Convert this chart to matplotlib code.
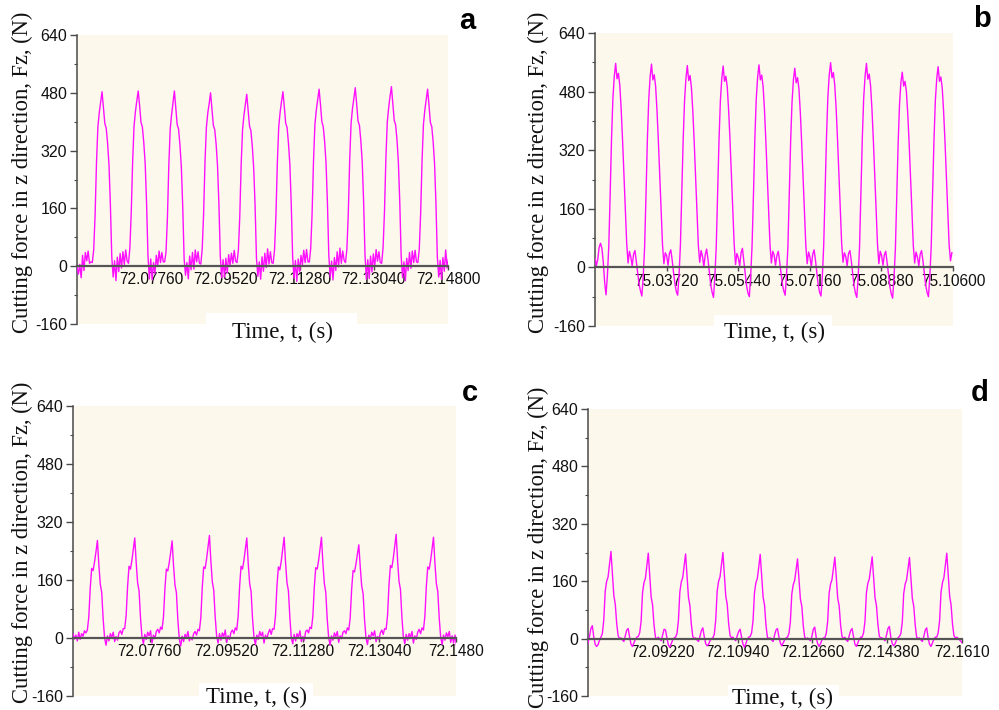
import numpy as np
import matplotlib
matplotlib.use("Agg")
import matplotlib.pyplot as plt
from matplotlib.patches import Rectangle
from matplotlib.ticker import MultipleLocator

# ---------------- data ----------------
# Panel a : Fz (N) sampled every dt_a seconds from t0_a
t0_a, dt_a = 72.06, 0.00033
lead_a = [-2, -22, 5, -32, 30, -12, 38, 15, 42, 8, 12]
cycles_a = [
    [10, 45, 140, 285, 385, 425, 455, 483, 440, 395, 382, 340, 280, 170, 25, -30, 15, -40, 25, -15, 35, -5, 40, 5, 45, 15],
    [8, 50, 150, 290, 388, 428, 458, 485, 445, 398, 385, 342, 285, 175, 30, -35, 20, -38, 10, -20, 30, 0, 42, 10, 38, 12],
    [12, 40, 135, 280, 380, 420, 452, 485, 438, 392, 380, 335, 275, 165, 20, -25, 10, -35, 28, -10, 38, -8, 45, 12, 40, 8],
    [6, 48, 145, 288, 384, 424, 450, 480, 436, 390, 378, 338, 278, 172, 28, -32, 18, -30, 22, -18, 32, 2, 36, 8, 44, 14],
    [10, 44, 138, 282, 378, 418, 448, 476, 432, 388, 375, 332, 272, 168, 22, -28, 12, -36, 26, -14, 36, -4, 48, 6, 40, 10],
    [8, 46, 142, 286, 386, 426, 456, 483, 442, 396, 384, 340, 282, 172, 26, -34, 16, -42, 20, -16, 30, 4, 44, 10, 46, 12],
    [12, 50, 148, 292, 392, 432, 462, 490, 448, 400, 386, 345, 286, 176, 30, -30, 14, -38, 24, -12, 40, -2, 50, 8, 42, 16],
    [10, 48, 146, 294, 395, 436, 466, 494, 450, 402, 390, 348, 290, 180, 32, -36, 18, -34, 28, -16, 34, 0, 46, 14, 40, 10],
    [8, 52, 150, 296, 398, 438, 470, 497, 452, 404, 392, 350, 288, 178, 28, -32, 12, -40, 22, -12, 38, -6, 42, 10, 44, 12],
    [10, 46, 145, 290, 392, 432, 462, 490, 446, 398, 386, 344, 284, 174, 26, -30, 16, -36, 24, -14, 45, -5, 20],
]
xlim_a = (72.06, 72.148)
xticks_a = [72.0776, 72.0952, 72.1128, 72.1304, 72.148]
xlabels_a = ["72.07760", "72.09520", "72.11280", "72.13040", "72.14800"]

# Panel b
t0_b, dt_b = 75.02, 0.000331
lead_b = [25, 5, 22, 55, 66, 52, 15, -40]
cycles_b = [
    [-75, -22, 58, 198, 352, 462, 522, 557, 515, 530, 498, 432, 348, 256, 162, 66, 12, 44, 28, 4, 36, 46, 16, -16, -46, -64],
    [-78, -25, 55, 195, 348, 458, 520, 555, 512, 526, 494, 428, 344, 252, 158, 62, 10, 40, 32, 6, 38, 48, 20, -14, -44, -66],
    [-76, -20, 62, 202, 350, 456, 516, 551, 510, 524, 490, 426, 342, 250, 156, 60, 14, 46, 30, 2, 34, 50, 22, -12, -48, -68],
    [-82, -24, 58, 200, 348, 455, 515, 550, 508, 522, 492, 428, 346, 254, 160, 64, 8, 38, 26, 4, 40, 52, 18, -18, -50, -70],
    [-80, -22, 60, 198, 350, 458, 518, 553, 512, 525, 494, 430, 345, 252, 158, 62, 12, 44, 34, 6, 32, 44, 16, -16, -46, -64],
    [-76, -20, 56, 196, 345, 452, 512, 544, 504, 518, 488, 424, 340, 248, 155, 60, 10, 42, 28, 2, 36, 48, 20, -14, -48, -68],
    [-78, -24, 62, 204, 355, 465, 525, 559, 518, 532, 498, 434, 350, 258, 162, 66, 14, 40, 30, 4, 38, 46, 18, -16, -50, -70],
    [-82, -26, 58, 200, 352, 462, 522, 557, 514, 528, 496, 432, 348, 256, 160, 64, 10, 44, 32, 6, 34, 44, 14, -18, -52, -72],
    [-84, -28, 50, 190, 338, 445, 505, 533, 495, 508, 480, 418, 338, 248, 155, 60, 12, 42, 28, 4, 36, 46, 18, -16, -48, -68],
    [-80, -24, 56, 196, 346, 455, 515, 548, 508, 520, 490, 426, 344, 252, 158, 62, 18, 40],
]
xlim_b = (75.02, 75.106)
xticks_b = [75.0372, 75.0544, 75.0716, 75.0888, 75.106]
xlabels_b = ["75.03720", "75.05440", "75.07160", "75.08880", "75.10600"]

# Panel c
t0_c, dt_c = 72.06, 0.00033
lead_c = [12, -3, 8, -8, 16, -4, 12, 5, 20, 14]
cycles_c = [
    [22, 58, 138, 192, 186, 210, 238, 269, 202, 148, 126, 52, 0, -20, 6, -8, 12, 2, 16, -10, 4, -6, 14, 20, 10, 26],
    [26, 62, 142, 198, 190, 214, 244, 276, 208, 152, 130, 56, 4, -16, 10, -4, 16, 6, 20, -14, 8, -2, 18, 24, 14, 30],
    [24, 58, 136, 190, 185, 208, 236, 268, 200, 146, 125, 50, -2, -22, 5, -10, 10, 0, 18, -8, 2, -5, 12, 18, 8, 24],
    [20, 56, 140, 196, 192, 218, 250, 283, 212, 155, 132, 58, 6, -14, 12, -6, 14, 4, 22, -12, 6, -4, 16, 22, 12, 28],
    [22, 60, 142, 198, 190, 214, 246, 276, 206, 150, 128, 54, 2, -18, 8, -4, 18, 6, 16, -14, 8, -2, 14, 24, 10, 26],
    [24, 62, 144, 196, 188, 212, 244, 278, 208, 152, 130, 56, 0, -16, 10, -8, 12, 2, 20, -10, 4, -6, 18, 22, 14, 30],
    [26, 60, 140, 194, 190, 214, 246, 278, 206, 150, 126, 52, 2, -20, 6, -6, 14, 4, 18, -12, 6, -2, 16, 20, 12, 28],
    [22, 56, 134, 186, 182, 204, 230, 257, 196, 144, 122, 50, 0, -18, 8, -4, 16, 6, 20, -10, 4, -4, 14, 22, 10, 26],
    [24, 62, 146, 200, 194, 220, 252, 286, 214, 156, 134, 58, 4, -16, 10, -6, 12, 2, 18, -14, 6, -4, 16, 24, 12, 28],
    [22, 60, 142, 196, 190, 214, 246, 278, 206, 150, 128, 54, 2, -18, 8, -6, 14, 4, 18, -12, 6, -14, 8, -20],
]
xlim_c = (72.06, 72.148)
xticks_c = [72.0776, 72.0952, 72.1128, 72.1304, 72.148]
xlabels_c = ["72.07760", "72.09520", "72.11280", "72.13040", "72.1480"]

# Panel d
t0_d, dt_d = 72.075, 0.00033
lead_d = [-13, 5, 28, 36, 5, -16, -22, -17, -5]
cycles_d = [
    [4, 14, 52, 132, 160, 172, 208, 243, 182, 120, 96, 42, 8, 0, 2, -4, -8, 8, 24, 28, 4, -16, -22, -12, -2, 4],
    [6, 16, 48, 128, 156, 168, 204, 238, 178, 116, 94, 38, 4, -2, 4, -2, -6, 10, 26, 24, 2, -18, -24, -14, -4, 2],
    [4, 14, 50, 130, 158, 170, 202, 236, 176, 115, 92, 40, 6, 0, 2, -4, -8, 6, 22, 30, 6, -14, -20, -16, -6, 0],
    [2, 12, 52, 132, 160, 172, 206, 240, 180, 118, 96, 42, 8, 2, 4, -2, -6, 8, 20, 26, 4, -16, -24, -14, -2, 4],
    [6, 16, 50, 128, 156, 168, 200, 235, 176, 116, 94, 38, 4, 0, 2, -4, -8, 10, 24, 28, 6, -12, -20, -12, -4, 2],
    [4, 14, 46, 124, 150, 162, 192, 222, 168, 110, 90, 36, 4, -2, 2, -2, -6, 6, 26, 32, 4, -14, -22, -14, -4, 2],
    [2, 14, 48, 126, 152, 164, 196, 227, 172, 112, 92, 38, 6, 0, 4, -4, -8, 8, 22, 28, 6, -16, -22, -12, -2, 4],
    [4, 16, 48, 128, 154, 166, 196, 228, 172, 114, 92, 40, 6, 2, 2, -2, -6, 10, 28, 34, 4, -14, -20, -14, -4, 2],
    [6, 14, 46, 126, 152, 164, 194, 226, 170, 112, 90, 38, 4, 0, 2, -4, -8, 6, 24, 30, 2, -16, -22, -12, -2, 4],
    [4, 16, 50, 130, 156, 170, 204, 238, 178, 118, 94, 40, 8, 2, 4, 0, -4, -8, -14],
]
xlim_d = (72.075, 72.161)
xticks_d = [72.0922, 72.1094, 72.1266, 72.1438, 72.161]
xlabels_d = ["72.09220", "72.10940", "72.12660", "72.14380", "72.1610"]

yticks = [-160, 0, 160, 320, 480, 640]
panel_letters = ["a", "b", "c", "d"]
ylabel_text = "Cutting force in z direction, Fz, (N)"
xlabel_text = "Time, t, (s)"

# ---------------- figure ----------------
W, H = 999, 710
plt.rcParams["font.family"] = ["Liberation Sans", "DejaVu Sans"]
plt.rcParams["axes.unicode_minus"] = False
fig = plt.figure(figsize=(W / 100, H / 100), dpi=100)

BEIGE = "#fdf8ec"
LINE = "#ff10ff"
AXC = "#4a4a4a"


def fx(px):
    return px / W


def fy(py):
    return 1 - py / H


# axes boxes in pixels: left, right, top, bottom
boxes = [(77, 448, 35, 324), (595, 953, 33, 326), (73, 456, 406, 696), (588, 962, 409, 696)]
panels = [
    (t0_a, dt_a, lead_a, cycles_a, xlim_a, xticks_a, xlabels_a),
    (t0_b, dt_b, lead_b, cycles_b, xlim_b, xticks_b, xlabels_b),
    (t0_c, dt_c, lead_c, cycles_c, xlim_c, xticks_c, xlabels_c),
    (t0_d, dt_d, lead_d, cycles_d, xlim_d, xticks_d, xlabels_d),
]
ylabel_pos = [(22, 172), (538, 172), (22, 542), (538, 547)]
xlabel_pos = [(282, 332), (774, 332), (256, 697), (782, 698)]
white_boxes = [(206, 357, 313), (714, 832, 315), (199, 313, 683), (728, 839, 685)]
letter_pos = [(467, 29), (982, 27), (470, 401), (980, 401)]

for i, (box, pdata) in enumerate(zip(boxes, panels)):
    l, r, t, b = box
    t0, dt, lead, cycles, xlim, xt, xl = pdata
    vals = np.concatenate([np.array(lead, float)] + [np.array(c, float) for c in cycles])
    times = t0 + dt * np.arange(len(vals))

    ax = fig.add_axes([fx(l), fy(b), (r - l) / W, (b - t) / H])
    ax.set_facecolor(BEIGE)
    ax.plot(times, vals, color=LINE, lw=1.0, zorder=3)
    ax.set_xlim(*xlim)
    ax.set_ylim(-160, 640)
    for s in ("top", "right"):
        ax.spines[s].set_visible(False)
    ax.spines["left"].set_color(AXC)
    ax.spines["left"].set_linewidth(1.1)
    ax.spines["bottom"].set_position(("data", 0))
    ax.spines["bottom"].set_color("#555555")
    ax.spines["bottom"].set_linewidth(1.6)
    ax.spines["bottom"].set_zorder(4)

    ax.set_yticks(yticks)
    ax.yaxis.set_minor_locator(MultipleLocator(80))
    ax.tick_params(axis="y", which="major", direction="out", length=5, width=1,
                   color=AXC, labelsize=11.5, pad=2, labelcolor="#111111")
    ax.tick_params(axis="y", which="minor", direction="out", length=2.5, width=0.8, color=AXC)
    ax.set_xticks(xt)
    ax.set_xticklabels(xl)
    ax.tick_params(axis="x", which="major", direction="out", length=3, width=1,
                   color=AXC, labelsize=11.2, pad=1.5, labelcolor="#111111")

    # y label
    yx, yy = ylabel_pos[i]
    fig.text(fx(yx), fy(yy), ylabel_text, rotation=90, ha="center", va="center",
             fontsize=16.3, family=["Liberation Serif", "DejaVu Serif"], color="#111111")
    # white box behind x label
    wx0, wx1, wy0 = white_boxes[i]
    fig.add_artist(Rectangle((fx(wx0), fy(wy0 + 40)), (wx1 - wx0) / W, 40 / H,
                             transform=fig.transFigure, facecolor="white",
                             edgecolor="none", zorder=5))
    xx, xy = xlabel_pos[i]
    fig.text(fx(xx), fy(xy), xlabel_text, ha="center", va="center", fontsize=16.5,
             family=["Liberation Serif", "DejaVu Serif"], color="#111111", zorder=6)
    lx, ly = letter_pos[i]
    fig.text(fx(lx), fy(ly), panel_letters[i], ha="center", va="baseline",
             fontsize=21, fontweight="bold", color="black")

fig.savefig("out.png", dpi=100)
